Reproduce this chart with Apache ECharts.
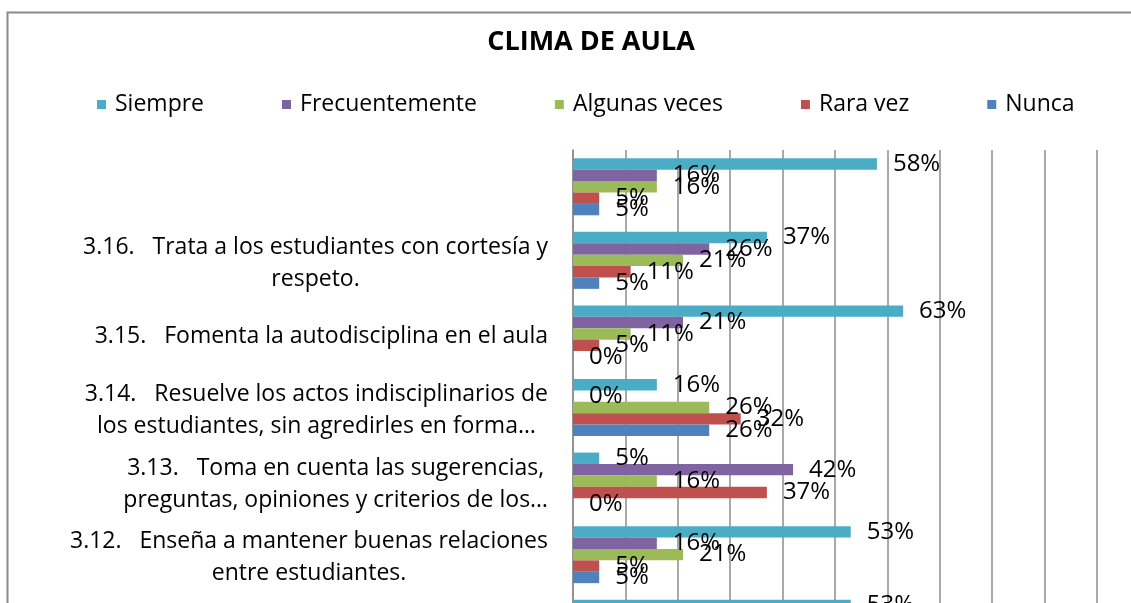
<!DOCTYPE html>
<html>
<head>
<meta charset="utf-8">
<script src="https://cdn.jsdelivr.net/npm/echarts@6/dist/echarts.min.js"></script>
<style>
html,body{margin:0;padding:0;overflow:hidden;background:#fff;}
#chart{width:1131px;height:740px;}
</style>
</head>
<body>
<div id="chart"></div>
<script>
const FONT = 'Open Sans';
const categories = [
  '',
  '3.16.   Trata a los estudiantes con cortesía y\nrespeto.',
  '3.15.   Fomenta la autodisciplina en el aula',
  '3.14.   Resuelve los actos indisciplinarios de\nlos estudiantes, sin agredirles en forma…',
  '3.13.   Toma en cuenta las sugerencias,\npreguntas, opiniones y criterios de los…',
  '3.12.   Enseña a mantener buenas relaciones\nentre estudiantes.',
  '3.11.'
];
const seriesNames = ['Siempre', 'Frecuentemente', 'Algunas veces', 'Rara vez', 'Nunca'];
const siempre        = [58, 37, 63, 16, 5, 53, 53];
const frecuentemente = [16, 26, 21, 0, 42, 16, null];
const algunasVeces   = [16, 21, 11, 26, 16, 21, null];
const raraVez        = [5, 11, 5, 32, 37, 5, null];
const nunca          = [5, 5, 0, 26, 0, 5, null];
const colors = ['#4BACC6', '#8064A2', '#9BBB59', '#C0504D', '#4F81BD'];
const xTicks = { min: 0, max: 100, interval: 10 };

const dataSets = [siempre, frecuentemente, algunasVeces, raraVez, nunca];

const chart = echarts.init(document.getElementById('chart'), null, { renderer: 'canvas' });
chart.setOption({
  animation: false,
  textStyle: { fontFamily: FONT },
  graphic: [{
    type: 'rect',
    shape: { x: 7.5, y: 12.5, width: 1300, height: 900 },
    style: { fill: 'none', stroke: '#8a8a8a', lineWidth: 2 },
    silent: true
  }],
  title: {
    text: 'CLIMA DE AULA',
    left: 586,
    textAlign: 'center',
    top: 24,
    textStyle: { fontFamily: FONT, fontSize: 27, fontWeight: 'bold', color: '#000' }
  },
  legend: {
    data: seriesNames,
    left: 92,
    top: 88,
    icon: 'rect',
    itemWidth: 9,
    itemHeight: 9,
    itemGap: 78,
    textStyle: { fontFamily: FONT, fontSize: 23, color: '#000', padding: [0, 0, 0, 4] }
  },
  grid: { left: 573, width: 524, top: 150, height: 515, containLabel: false },
  xAxis: {
    type: 'value',
    min: xTicks.min, max: xTicks.max, interval: xTicks.interval,
    axisLine: { show: false },
    axisTick: { show: false },
    axisLabel: { formatter: '{value}%', fontSize: 23, color: '#000' },
    splitLine: { show: true, lineStyle: { color: '#8c8c8c', width: 1.5 } }
  },
  yAxis: {
    type: 'category',
    inverse: true,
    data: categories,
    axisLine: { show: true, lineStyle: { color: '#8c8c8c', width: 1.5 } },
    axisTick: { show: false },
    axisLabel: {
      margin: 25,
      align: 'right',
      padding: [6, 0, 0, 0],
      formatter: function (v) {
        return v.split('\n').map(function (l) { return '{c|' + l + '}'; }).join('\n');
      },
      rich: { c: { align: 'center', fontFamily: FONT, fontSize: 23, lineHeight: 32, color: '#000' } }
    }
  },
  series: seriesNames.map(function (name, i) {
    return {
      name: name,
      type: 'bar',
      data: dataSets[i],
      barGap: '0%',
      barCategoryGap: '22.5%',
      itemStyle: { color: colors[i] },
      label: {
        show: true,
        position: 'right',
        distance: 16,
        formatter: '{c}%',
        fontFamily: FONT,
        fontSize: 24,
        color: '#000'
      }
    };
  })
});
</script>
</body>
</html>
